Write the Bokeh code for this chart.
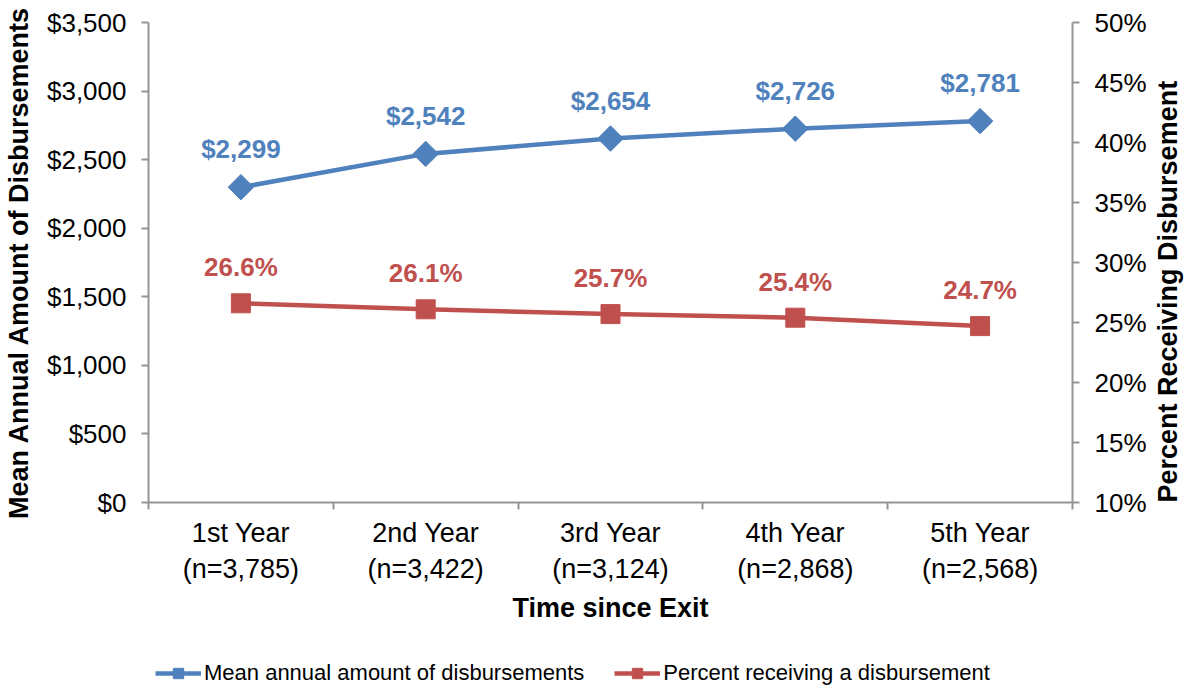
import math
from bokeh.plotting import figure
from bokeh.layouts import column
from bokeh.models import (Range1d, LinearAxis, FixedTicker, NumeralTickFormatter,
                          Legend, LegendItem, ColumnDataSource)
from bokeh.embed import file_html
from bokeh.resources import INLINE

# ---- data ----
categories = ["1st Year\n(n=3,785)", "2nd Year\n(n=3,422)", "3rd Year\n(n=3,124)",
              "4th Year\n(n=2,868)", "5th Year\n(n=2,568)"]
mean_amount = [2299, 2542, 2654, 2726, 2781]
pct_receiving = [26.6, 26.1, 25.7, 25.4, 24.7]
amount_labels = ["$2,299", "$2,542", "$2,654", "$2,726", "$2,781"]
pct_labels = ["26.6%", "26.1%", "25.7%", "25.4%", "24.7%"]
series_names = ["Mean annual amount of disbursements", "Percent receiving a disbursement"]

BLUE = "#4F81BD"
RED = "#C0504D"
AXIS = "#959595"
FONT = "Liberation Sans"

xpos = [i + 0.5 for i in range(len(categories))]

src = ColumnDataSource(dict(x=xpos, amt=mean_amount, pct=[v / 100 for v in pct_receiving],
                            amt_lbl=amount_labels, pct_lbl=pct_labels))

p = figure(frame_width=924, frame_height=480, output_backend="svg", toolbar_location=None,
           x_range=Range1d(0, len(categories)), y_range=Range1d(0, 3500),
           min_border_left=148, min_border_right=116, min_border_top=22,
           min_border_bottom=130)
p.outline_line_color = None
p.grid.grid_line_color = None
p.background_fill_color = "white"
p.border_fill_color = "white"

p.extra_y_ranges = {"pct": Range1d(0.10, 0.50)}

# x axis
xa = p.xaxis[0]
xa.ticker = FixedTicker(ticks=xpos, minor_ticks=list(range(len(categories) + 1)))
xa.major_label_overrides = {x: c for x, c in zip(xpos, categories)}
xa.major_tick_line_color = None
xa.minor_tick_line_color = AXIS
xa.minor_tick_out = 7
xa.minor_tick_in = 0
xa.minor_tick_line_width = 2
xa.axis_line_color = AXIS
xa.axis_line_width = 2
xa.major_label_text_font = FONT
xa.major_label_text_font_size = "27px"
xa.major_label_text_color = "black"
xa.major_label_text_line_height = 1.2
xa.major_label_standoff = 8
xa.axis_label = "Time since Exit"
xa.axis_label_text_font = FONT
xa.axis_label_text_font_size = "27px"
xa.axis_label_text_font_style = "bold"
xa.axis_label_text_color = "black"
xa.axis_label_standoff = 6

# left y axis
ya = p.yaxis[0]
ya.ticker = FixedTicker(ticks=list(range(0, 3501, 500)), minor_ticks=[])
ya.formatter = NumeralTickFormatter(format="$0,0")
ya.axis_line_color = AXIS
ya.axis_line_width = 2
ya.major_tick_line_color = AXIS
ya.major_tick_line_width = 2
ya.major_tick_out = 7
ya.major_tick_in = 0
ya.major_label_text_font = FONT
ya.major_label_text_font_size = "26px"
ya.major_label_text_color = "black"
ya.major_label_standoff = 15
ya.axis_label = "Mean Annual Amount of Disbursements"
ya.axis_label_text_font = FONT
ya.axis_label_text_font_size = "27px"
ya.axis_label_text_font_style = "bold"
ya.axis_label_text_color = "black"
ya.axis_label_standoff = 10

# right y axis
ra = LinearAxis(y_range_name="pct")
ra.ticker = FixedTicker(ticks=[0.10, 0.15, 0.20, 0.25, 0.30, 0.35, 0.40, 0.45, 0.50], minor_ticks=[])
ra.formatter = NumeralTickFormatter(format="0%")
ra.axis_line_color = AXIS
ra.axis_line_width = 2
ra.major_tick_line_color = AXIS
ra.major_tick_line_width = 2
ra.major_tick_out = 7
ra.major_tick_in = 0
ra.major_label_text_font = FONT
ra.major_label_text_font_size = "26px"
ra.major_label_text_color = "black"
ra.major_label_standoff = 15
ra.axis_label = "Percent Receiving Disbursement"
ra.axis_label_text_font = FONT
ra.axis_label_text_font_size = "27px"
ra.axis_label_text_font_style = "bold"
ra.axis_label_text_color = "black"
ra.axis_label_standoff = 18
ra.axis_label_orientation = math.pi / 2
ra.axis_label_align = "start"
p.add_layout(ra, "right")

# series
p.line("x", "amt", source=src, line_color=BLUE, line_width=4.5)
p.scatter("x", "amt", source=src, marker="square", angle=math.pi / 4, size=18,
          fill_color=BLUE, line_color=BLUE)
p.line("x", "pct", source=src, y_range_name="pct", line_color=RED, line_width=4.5)
p.scatter("x", "pct", source=src, y_range_name="pct", marker="square", size=19,
          fill_color=RED, line_color=RED)

p.text("x", "amt", text="amt_lbl", source=src, text_align="center", text_baseline="bottom",
       y_offset=-23, text_font={"value": FONT}, text_font_size="26px",
       text_font_style="bold", text_color=BLUE)
p.text("x", "pct", text="pct_lbl", source=src, y_range_name="pct", text_align="center",
       text_baseline="bottom", y_offset=-21, text_font={"value": FONT}, text_font_size="26px",
       text_font_style="bold", text_color=RED)

# ---- legend strip (separate figure below the chart) ----
# its renderers use the real data, but fall outside this strip's ranges, so only
# the legend itself is visible
lg = figure(width=1188, height=58, output_backend="svg", toolbar_location=None,
            x_axis_location=None, y_axis_location=None,
            x_range=Range1d(0, 1), y_range=Range1d(0, 1), min_border=0)
lg.outline_line_color = None
lg.grid.grid_line_color = None
lg.border_fill_color = "white"
lg.background_fill_color = "white"
b_line = lg.line("x", "amt", source=src, line_color=BLUE, line_width=4.5)
b_mark = lg.scatter("x", "amt", source=src, marker="square", angle=math.pi / 4, size=14,
                    fill_color=BLUE, line_color=BLUE)
r_line = lg.line("x", "amt", source=src, line_color=RED, line_width=4.5)
r_mark = lg.scatter("x", "amt", source=src, marker="square", size=16,
                    fill_color=RED, line_color=RED)

legend = Legend(items=[LegendItem(label=series_names[0], renderers=[b_line, b_mark]),
                       LegendItem(label=series_names[1], renderers=[r_line, r_mark])],
                orientation="horizontal", location=(7, 4),
                label_text_font=FONT, label_text_font_size="22px", label_text_color="black",
                glyph_width=46, glyph_height=26, spacing=30, label_standoff=3,
                border_line_color=None, background_fill_alpha=0, margin=0, padding=0)
lg.add_layout(legend)

open("out.html", "w").write(file_html(column(p, lg, spacing=0), INLINE))
